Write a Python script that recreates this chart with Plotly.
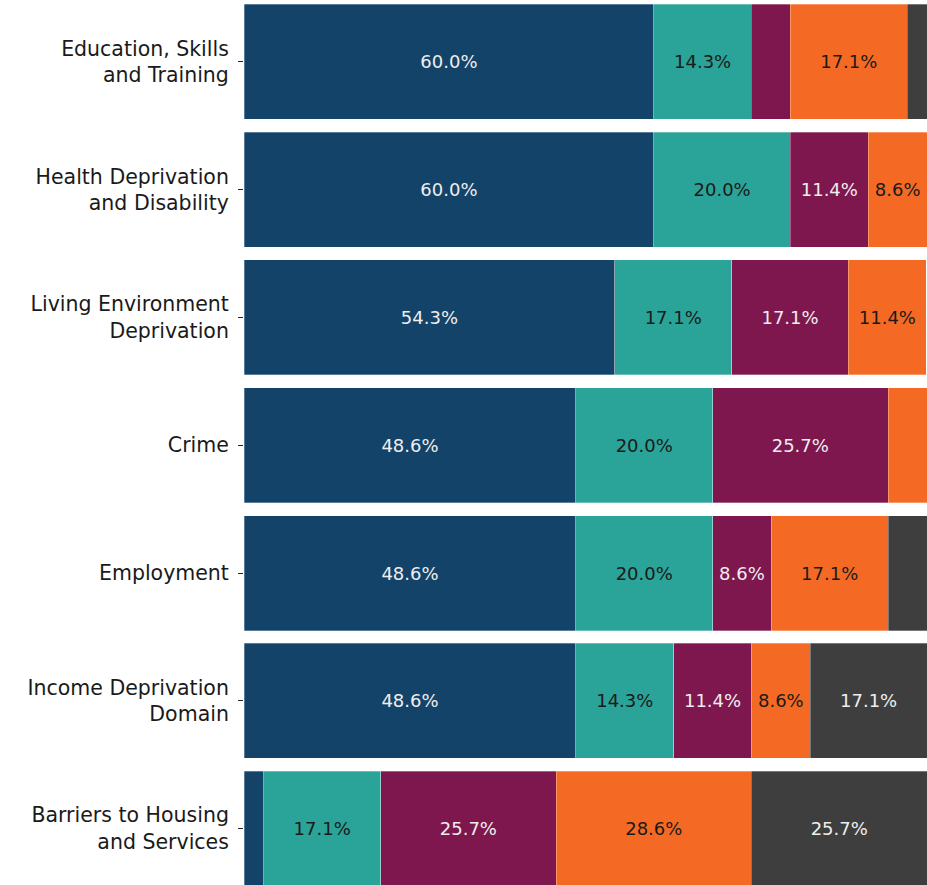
import plotly.graph_objects as go

categories = [
    "Education, Skills<br>and Training",
    "Health Deprivation<br>and Disability",
    "Living Environment<br>Deprivation",
    "Crime",
    "Employment",
    "Income Deprivation<br>Domain",
    "Barriers to Housing<br>and Services",
]

series_names = ["Group 1", "Group 2", "Group 3", "Group 4", "Group 5"]
blue = [60.0, 60.0, 54.3, 48.6, 48.6, 48.6, 2.9]
teal = [14.3, 20.0, 17.1, 20.0, 20.0, 14.3, 17.1]
purple = [5.7, 11.4, 17.1, 25.7, 8.6, 11.4, 25.7]
orange = [17.1, 8.6, 11.4, 5.7, 17.1, 8.6, 28.6]
gray = [2.9, 0.0, 0.0, 0.0, 5.7, 17.1, 25.7]

series_values = [blue, teal, purple, orange, gray]
colors = ["#144369", "#2aa398", "#7e174e", "#f46a25", "#3e3e3e"]
text_colors = ["#eeeeee", "#1a1a1a", "#eeeeee", "#1a1a1a", "#eeeeee"]

ypos = list(range(len(categories)))

fig = go.Figure()
for name, vals, col, tcol in zip(series_names, series_values, colors, text_colors):
    labels = [f"{v:.1f}%" if v >= 8 else "" for v in vals]
    fig.add_trace(go.Bar(
        y=ypos, x=vals, orientation="h", name=name,
        marker=dict(color=col, line=dict(color="rgba(255,255,255,0.6)", width=0.5)),
        width=0.9,
        text=labels, textposition="inside", insidetextanchor="middle",
        textangle=0, constraintext="none",
        textfont=dict(family="DejaVu Sans", size=18, color=tcol),
        hoverinfo="skip",
    ))

fig.update_layout(
    barmode="stack",
    width=927, height=885,
    margin=dict(l=244, r=0, t=0, b=0),
    plot_bgcolor="white", paper_bgcolor="white",
    showlegend=False,
    font=dict(family="DejaVu Sans", color="#1a1a1a"),
)
fig.update_xaxes(range=[0, 100], showticklabels=False, showgrid=False,
                 zeroline=False, showline=False, ticks="")
fig.update_yaxes(range=[6.442, -0.485], tickvals=ypos, ticktext=categories,
                 ticks="outside", ticklen=5, tickwidth=1, tickcolor="#222222",
                 ticklabelstandoff=5,
                 showgrid=False, zeroline=False, showline=False,
                 tickfont=dict(family="DejaVu Sans", size=20.5, color="#1a1a1a"))

fig.write_html("out.html",
               config={"displayModeBar": False},
               post_script="document.body.style.margin='0';document.body.style.overflow='hidden';")
